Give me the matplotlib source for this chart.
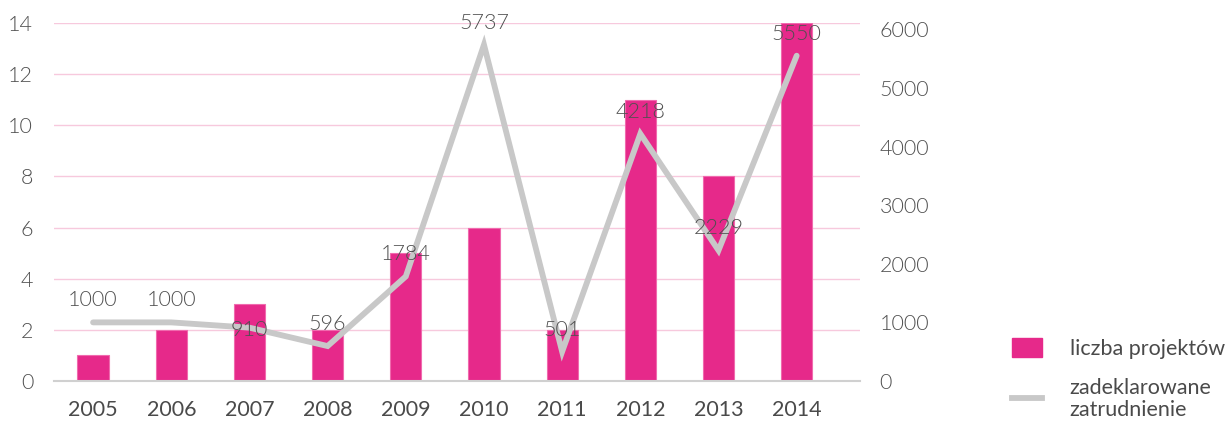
import matplotlib
matplotlib.use("Agg")
import matplotlib.pyplot as plt
from matplotlib.patches import Patch
from matplotlib.lines import Line2D

plt.rcParams["font.family"] = ["Lato", "DejaVu Sans"]

years = ["2005", "2006", "2007", "2008", "2009", "2010", "2011", "2012", "2013", "2014"]
projects = [1, 2, 3, 2, 5, 6, 2, 11, 8, 14]
employment = [1000, 1000, 910, 596, 1784, 5737, 501, 4218, 2229, 5550]
bar_label = "liczba projektów"
line_label = "zadeklarowane\nzatrudnienie"

PINK = "#E6298A"
GREY_LINE = "#C8C8C8"
GRID = "#F7C9DD"
TEXT = "#505050"
NUM_WEIGHT = 300
FS = 15.5

fig = plt.figure(figsize=(12.27, 4.23), dpi=100)
ax = fig.add_axes([54 / 1227, 42 / 423, (860 - 54) / 1227, (381 - 23) / 423])
ax2 = ax.twinx()

x = list(range(len(years)))
ax.bar(x, projects, width=0.4, color=PINK, edgecolor="#F06AAE", linewidth=0.8, zorder=2)
ax.set_xlim(-0.5, 9.81)
ax.set_ylim(0, 14)
ax.set_yticks(range(0, 15, 2))
ax.grid(axis="y", color=GRID, linewidth=1.0, zorder=0)
ax.set_axisbelow(True)
ax.set_xticks(x)
ax.set_xticklabels(years)

ax2.plot(x, employment, color=GREY_LINE, linewidth=4.2, solid_capstyle="round",
         solid_joinstyle="miter", zorder=3)
ax2.set_ylim(0, 6108)
ax2.set_yticks(range(0, 6001, 1000))

# value labels sit above each point; the 2007 one is centred on the line
for i, v in enumerate(employment):
    dy = -2 if years[i] == "2007" else 22
    ax2.annotate(str(v), (i, v), xytext=(0, dy), textcoords="offset pixels",
                 ha="center", va="center", fontsize=FS, color=TEXT,
                 fontweight=NUM_WEIGHT, zorder=4)

for a in (ax, ax2):
    for s in a.spines.values():
        s.set_visible(False)
    a.tick_params(length=0)

ax.spines["bottom"].set_visible(True)
ax.spines["bottom"].set_color("#D0D0D0")
ax.spines["bottom"].set_linewidth(1.5)

ax.tick_params(axis="y", labelsize=FS, labelcolor=TEXT, pad=15)
for t in ax.get_yticklabels():
    t.set_fontweight(NUM_WEIGHT)
ax.tick_params(axis="x", labelsize=FS, labelcolor="#4A4A4A", pad=14)
ax2.tick_params(axis="y", labelsize=FS, labelcolor=TEXT, pad=14)
for t in ax2.get_yticklabels():
    t.set_fontweight(NUM_WEIGHT)

handles = [Patch(facecolor=PINK, edgecolor=PINK, label=bar_label),
           Line2D([0], [0], color=GREY_LINE, linewidth=4.2, label=line_label)]
leg = fig.legend(handles=handles, loc="upper left",
                 bbox_to_anchor=(1003 / 1227, 1 - 329 / 423),
                 frameon=False, fontsize=FS, handlelength=1.4, handleheight=1.0,
                 handletextpad=1.3, labelspacing=0.9, borderaxespad=0)
for t in leg.get_texts():
    t.set_color("#4A4A4A")
    t.set_linespacing(1.1)

fig.savefig("out.png", dpi=100)
